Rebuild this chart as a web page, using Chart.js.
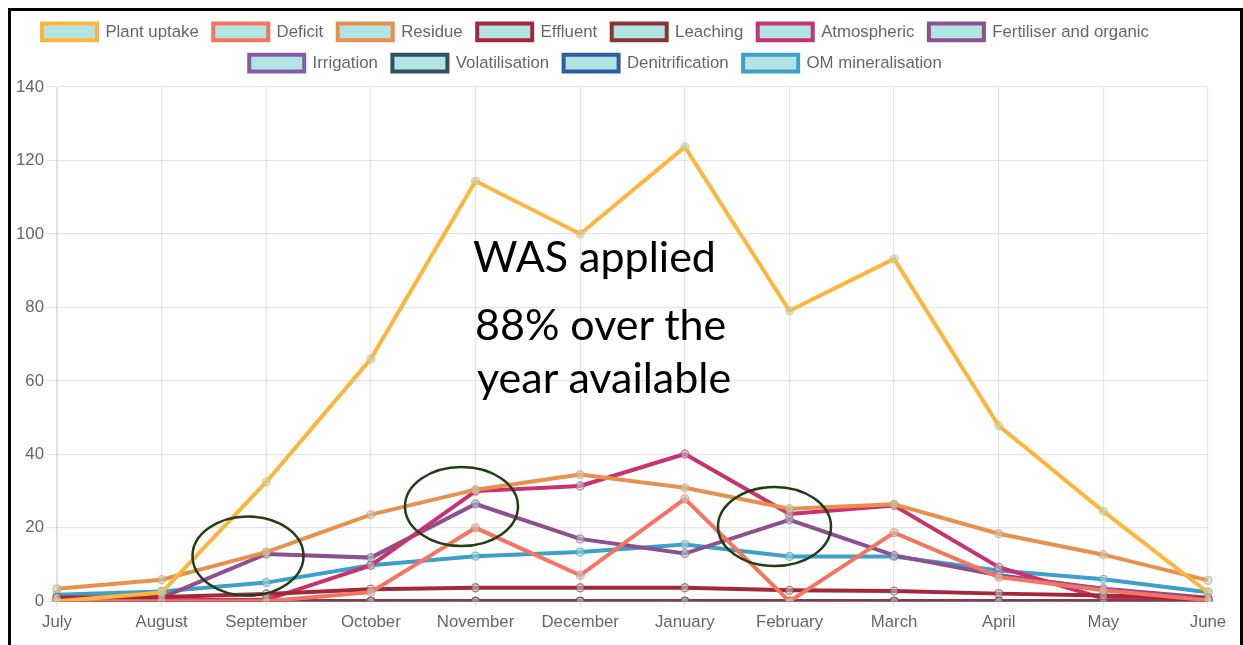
<!DOCTYPE html>
<html>
<head>
<meta charset="utf-8">
<script src="https://cdn.jsdelivr.net/npm/chart.js@4"></script>
<style>
  html, body { margin: 0; padding: 0; background: #fff; }
  #wrap { position: relative; width: 1243px; height: 645px; overflow: hidden; }
  #box { position: absolute; left: 0; top: 0; width: 1243px; height: 645px; }
  #frame { position: absolute; left: 8px; top: 8px; width: 1229px; height: 660px;
           border: 3px solid #000; box-sizing: content-box; pointer-events: none; }
  #overlay { position: absolute; left: 0; top: 0; pointer-events: none; }
</style>
</head>
<body>
<div id="wrap">
  <div id="box"><canvas id="c"></canvas></div>
  <svg id="overlay" width="1243" height="645">
    <ellipse cx="248" cy="556" rx="55.5" ry="39.5" fill="none" stroke="#233d17" stroke-width="2.5"/>
    <ellipse cx="461.5" cy="506.5" rx="56.5" ry="39.5" fill="none" stroke="#233d17" stroke-width="2.5"/>
    <ellipse cx="774.5" cy="526.5" rx="56.5" ry="39.5" fill="none" stroke="#233d17" stroke-width="2.5"/>
    <g font-family="Lato, 'Open Sans', sans-serif" font-size="43" fill="#000">
      <text x="473" y="272">WAS applied</text>
      <text x="475" y="340">88% over the</text>
      <text x="477" y="393">year available</text>
    </g>
  </svg>
  <div id="frame"></div>
</div>
<script>
const months = ['July','August','September','October','November','December','January','February','March','April','May','June'];

const plantUptake   = [0, 2.4, 32.5, 66, 114.4, 100, 123.7, 79.1, 93.2, 47.8, 24.5, 2.4];
const deficit       = [0, 0, 0, 2.5, 20, 7.1, 27.9, 0, 18.7, 6.6, 3, 0.3];
const residue       = [3.4, 5.9, 13.4, 23.6, 30.4, 34.5, 30.9, 25.2, 26.4, 18.4, 12.7, 5.7];
const effluent      = [1, 1.2, 2, 3.3, 3.7, 3.7, 3.7, 3, 2.8, 2.1, 1.6, 0.8];
const leaching      = [0, 0, 0, 0, 0, 0, 0, 0, 0, 0, 0, 0];
const atmospheric   = [0, 0.3, 0.4, 9.8, 30, 31.4, 40.1, 23.8, 26.1, 9.3, 0.8, 0.5];
const fertOrganic   = [1, 1, 12.9, 11.9, 26.5, 17, 13, 22.2, 12.5, 7.1, 3.4, 1];
const irrigation    = [0, 0, 0, 0, 0, 0, 0, 0, 0, 0, 0, 0];
const volatilisation= [0, 0, 0, 0, 0, 0, 0, 0, 0, 0, 0, 0];
const denitrification=[0, 0, 0, 0, 0, 0, 0, 0, 0, 0, 0, 0];
const omMineral     = [1.8, 2.7, 5.1, 9.8, 12.3, 13.4, 15.5, 12.2, 12.2, 8.4, 6, 2.5];

const seriesNames = ['Plant uptake','Deficit','Residue','Effluent','Leaching','Atmospheric','Fertiliser and organic','Irrigation','Volatilisation','Denitrification','OM mineralisation'];
const seriesData  = [plantUptake, deficit, residue, effluent, leaching, atmospheric, fertOrganic, irrigation, volatilisation, denitrification, omMineral];
const seriesColors = ['#FFB43C','#F8735F','#E8914C','#A3293A','#8A3434','#C9326F','#8D4F8E','#845CAA','#2E505F','#2D5FA0','#3CA0C8'];

const fill = 'rgba(178,228,228,1)';

const datasets = seriesNames.map((name, i) => ({
  label: name,
  data: seriesData[i],
  borderColor: seriesColors[i],
  backgroundColor: fill,
  borderWidth: 4,
  tension: 0,
  fill: false,
  pointRadius: 4,
  pointBorderWidth: 1.3,
  pointBackgroundColor: 'rgba(170,215,205,0.55)',
  pointBorderColor: seriesColors[i] + '99'
}));

const legendShift = {
  id: 'legendShift',
  afterLayout(chart) {
    const lg = chart.legend;
    if (!lg) return;
    const dx = 595.5 - (lg.left + lg.right) / 2;
    lg.left += dx; lg.right += dx;
    const dy = 9 - lg.top;
    lg.top += dy; lg.bottom += dy;
  }
};

const tickFont = { family: "'Liberation Sans', Arial, sans-serif", size: 16.8 };

new Chart(document.getElementById('c'), {
  type: 'line',
  data: { labels: months, datasets },
  plugins: [legendShift],
  options: {
    responsive: true,
    maintainAspectRatio: false,
    animation: false,
    layout: { padding: { left: 10, right: 35, top: 14.4, bottom: 7.5 } },
    plugins: {
      legend: {
        display: true,
        position: 'top',
        labels: {
          boxWidth: 55,
          boxHeight: 16.8,
          padding: 14.5,
          color: '#666',
          font: tickFont
        }
      },
      tooltip: { enabled: false }
    },
    scales: {
      x: {
        grid: { color: 'rgba(0,0,0,0.1)', tickLength: 6, lineWidth: 1.2 },
        border: { color: 'rgba(0,0,0,0.1)' },
        ticks: { color: '#666', font: tickFont, padding: 5, maxRotation: 0, autoSkip: false }
      },
      y: {
        min: 0, max: 140,
        afterFit(scale) { scale.width = 47; },
        grid: { color: 'rgba(0,0,0,0.1)', tickLength: 10, lineWidth: 1.2 },
        border: { color: 'rgba(0,0,0,0.1)' },
        ticks: { stepSize: 20, color: '#666', font: tickFont, padding: 3 }
      }
    }
  }
});
</script>
</body>
</html>
